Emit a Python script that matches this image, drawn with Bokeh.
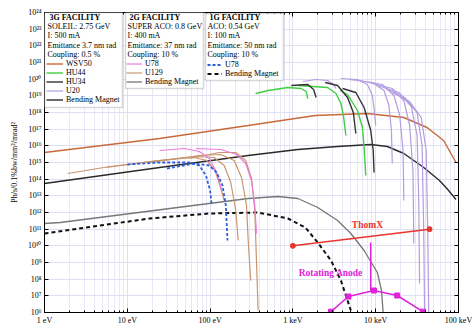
import numpy as np
from bokeh.plotting import figure
from bokeh.models import (FixedTicker, CustomJSTickFormatter, LogAxis, Label,
                          BoxAnnotation, Legend, LegendItem)
from bokeh.embed import file_html
from bokeh.resources import INLINE

FONT = "Liberation Serif"

# ---------------- axes ----------------
X_TICKS = [1.0, 10.0, 100.0, 1000.0, 10000.0, 100000.0]
X_TICK_LABELS = ["1 eV", "10 eV", "100 eV", "1 keV", "10 keV", "100 keV"]
Y_EXPONENTS = list(range(6, 25))
Y_LABEL = "Ph/s/0.1%bw/mm²/mrad²"

# ---------------- data: log10(E / eV), log10(brilliance) ----------------
# 3G SOLEIL
BM3G_LOGE = [0.0, 1.39, 2.46, 3.06, 3.54, 3.94, 4.14, 4.34, 4.58, 4.77, 4.86, 4.97]
BM3G_LOGB = [13.74, 14.70, 15.42, 15.78, 15.96, 16.08, 15.96, 15.54, 14.70, 13.92, 13.44, 12.78]
WSV50_LOGE = [0.0, 1.39, 2.46, 3.27, 3.90, 4.34, 4.62, 4.82, 4.97]
WSV50_LOGB = [15.60, 16.44, 17.22, 17.82, 17.94, 17.70, 17.10, 16.32, 15.00]
HU44_LOGE = [[2.55, 2.70, 2.94, 3.10, 3.16, 3.18],
             [3.06, 3.42, 3.52, 3.58, 3.61, 3.64],
             [3.57, 3.66, 3.78, 3.84, 3.86, 3.88]]
HU44_LOGB = [[19.14, 19.32, 19.50, 19.44, 19.26, 18.84],
             [19.62, 19.50, 19.14, 18.54, 17.82, 16.62],
             [19.32, 19.08, 18.12, 17.10, 15.90, 14.22]]
HU34_LOGE = [[2.98, 3.18, 3.25, 3.28],
             [3.39, 3.54, 3.66, 3.73, 3.76],
             [3.60, 3.76, 3.86, 3.94, 3.97, 3.98]]
HU34_LOGB = [[19.62, 19.68, 19.38, 18.90],
             [19.80, 19.62, 18.90, 18.00, 16.74],
             [19.44, 19.20, 18.30, 16.92, 15.72, 14.40]]
U20_LOGE = [[3.12, 3.28, 3.42, 3.49, 3.52],
            [3.58, 3.78, 3.90, 3.96, 3.98, 4.00],
            [3.68, 3.96, 4.10, 4.16, 4.19, 4.20],
            [3.80, 4.08, 4.22, 4.29, 4.33, 4.34],
            [3.92, 4.20, 4.34, 4.41, 4.45, 4.46],
            [4.02, 4.28, 4.43, 4.50, 4.52, 4.53],
            [4.12, 4.35, 4.50, 4.56, 4.58, 4.59],
            [4.20, 4.41, 4.55, 4.61, 4.63, 4.64]]
U20_LOGB = [[19.86, 19.98, 19.92, 19.68, 19.44],
            [20.04, 19.98, 19.68, 19.02, 18.24, 17.22],
            [19.98, 19.80, 19.32, 18.42, 16.92, 14.94],
            [19.92, 19.68, 19.02, 17.82, 15.72, 12.72],
            [19.80, 19.44, 18.72, 17.22, 14.52, 10.14],
            [19.62, 19.20, 18.36, 16.62, 12.72, 7.74],
            [19.44, 18.90, 18.00, 16.02, 10.92, 6.12],
            [19.20, 18.66, 17.70, 15.72, 10.32, 6.00]]

# 2G SUPER ACO
BM2G_LOGE = [0.0, 0.19, 2.46, 2.82, 3.06, 3.30, 3.54, 3.70, 3.86, 4.02, 4.07, 4.09]
BM2G_LOGB = [11.34, 11.40, 12.84, 12.96, 12.84, 12.30, 11.52, 10.74, 9.72, 8.40, 7.32, 6.00]
U78_2G_LOGE = [[1.39, 1.69, 1.87, 1.99, 2.08, 2.14],
               [1.83, 2.13, 2.32, 2.43, 2.50, 2.54, 2.56]]
U78_2G_LOGB = [[15.72, 15.84, 15.66, 15.24, 14.40, 13.32],
               [15.84, 15.78, 15.48, 14.94, 13.92, 12.42, 10.74]]
U129_LOGE = [[0.28, 0.79, 1.39, 1.81, 1.96, 2.06, 2.12, 2.17],
             [0.75, 1.27, 1.81, 2.05, 2.17, 2.25, 2.31, 2.34],
             [1.27, 1.87, 2.13, 2.29, 2.38, 2.44, 2.46, 2.49],
             [1.75, 2.11, 2.31, 2.43, 2.50, 2.54, 2.56, 2.58]]
U129_LOGB = [[14.34, 14.76, 15.12, 15.30, 15.12, 14.52, 13.62, 12.72],
             [14.70, 15.06, 15.36, 15.30, 14.82, 13.80, 12.12, 10.32],
             [15.00, 15.42, 15.48, 15.12, 14.10, 12.42, 10.32, 7.92],
             [15.24, 15.60, 15.60, 15.12, 14.04, 12.12, 9.12, 6.12]]

# 1G ACO
BM1G_LOGE = [0.0, 1.27, 1.99, 2.58, 2.94, 3.15, 3.30, 3.46, 3.58, 3.70]
BM1G_LOGB = [10.74, 11.64, 11.94, 12.00, 11.64, 11.10, 10.20, 9.12, 7.92, 6.12]
U78_1G_LOGE = [[1.00, 1.39, 1.75, 1.87, 1.95, 2.00, 2.02],
               [1.48, 1.81, 1.99, 2.08, 2.15, 2.19, 2.21]]
U78_1G_LOGB = [[14.88, 15.00, 15.00, 14.82, 14.22, 13.32, 12.42],
               [14.64, 14.94, 14.82, 14.40, 13.62, 12.42, 10.32]]

# ThomX and rotating anode
THOMX_LOGE = [3.00, 4.65]
THOMX_LOGB = [10.00, 11.00]
ANODE_LOGE = [3.46, 3.67, 3.98, 4.26, 4.57]
ANODE_LOGB = [6.05, 6.96, 7.32, 7.02, 6.05]
ANODE_LINE_LOGE = [3.94, 3.94]
ANODE_LINE_LOGB = [10.20, 7.28]

HEAD_3G = ["3G FACILITY", "SOLEIL: 2.75 GeV", "I: 500 mA", "Emittance 3.7 nm rad", "Coupling: 0.5 %"]
HEAD_2G = ["2G FACILITY", "SUPER ACO: 0.8 GeV", "I: 400 mA", "Emittance: 37 nm rad", "Coupling: 10 %"]
HEAD_1G = ["1G FACILITY", "ACO: 0.54 GeV", "I: 100 mA", "Emittance: 50 nm rad", "Coupling: 10 %"]

C_WSV = "#c8693a"
C_HU44 = "#3fcf3f"
C_HU34 = "#333333"
C_U20 = "#b39ce0"
C_BM3 = "#2a2a2a"
C_U78 = "#ea7ddc"
C_U129 = "#c9956e"
C_BM2 = "#777777"
C_U78_1 = "#2f5fd8"
C_BM1 = "#111111"
C_THOMX = "#e8352e"
C_ANODE = "#e022d8"

TXT = "8px"


def P(a):
    return 10 ** np.asarray(a, dtype=float)


p = figure(width=472, height=331, x_axis_type="log", y_axis_type="log",
           x_range=(1, 1e5), y_range=(1e6, 1e24),
           output_backend="svg", toolbar_location=None,
           min_border_left=44, min_border_right=14, min_border_top=12, min_border_bottom=19)
p.background_fill_color = "white"
p.border_fill_color = "white"
p.outline_line_color = "black"
p.outline_line_width = 1

xticker = FixedTicker(ticks=X_TICKS,
                      minor_ticks=[float(m * 10 ** k) for k in range(5) for m in range(2, 10)])
yticker = FixedTicker(ticks=[float(10 ** e) for e in Y_EXPONENTS], minor_ticks=[])
xfmt = CustomJSTickFormatter(args=dict(labels=X_TICK_LABELS),
                             code="const i = Math.round(Math.log10(tick)); return labels[i] ?? '';")
yfmt = CustomJSTickFormatter(code="""
const sup = {'0':'\u2070','1':'\u00b9','2':'\u00b2','3':'\u00b3','4':'\u2074','5':'\u2075','6':'\u2076','7':'\u2077','8':'\u2078','9':'\u2079','-':'\u207b'};
const e = Math.round(Math.log10(tick));
return '10' + String(e).split('').map(c => sup[c]).join('');
""")
blank_fmt = CustomJSTickFormatter(code="return '';")

p.xaxis.ticker = xticker
p.xaxis.formatter = xfmt
p.yaxis.ticker = yticker
p.yaxis.formatter = yfmt
p.xgrid.ticker = xticker
p.ygrid.ticker = yticker

for ax in [p.xaxis[0], p.yaxis[0]]:
    ax.major_tick_in = 4
    ax.major_tick_out = 0
    ax.minor_tick_in = 2
    ax.minor_tick_out = 0
    ax.axis_line_color = "black"
    ax.major_label_text_font = FONT
    ax.major_label_text_font_size = "8px"
    ax.major_label_text_color = "black"
    ax.major_label_standoff = 3
p.yaxis.axis_label = Y_LABEL
p.yaxis.axis_label_text_font = FONT
p.yaxis.axis_label_text_font_size = "8px"
p.yaxis.axis_label_text_font_style = "normal"
p.yaxis.axis_label_text_color = "black"
p.yaxis.axis_label_standoff = 6

top_ax = LogAxis(ticker=xticker, formatter=blank_fmt, major_label_standoff=0,
                 major_tick_in=4, major_tick_out=0, minor_tick_in=2, minor_tick_out=0)
right_ax = LogAxis(ticker=yticker, formatter=blank_fmt, major_label_standoff=0,
                   major_tick_in=4, major_tick_out=0, minor_tick_in=0, minor_tick_out=0)
p.add_layout(top_ax, "above")
p.add_layout(right_ax, "right")

p.xgrid.grid_line_color = "#dfdff2"
p.xgrid.minor_grid_line_color = "#e8e8f6"
p.ygrid.grid_line_color = "#dfdff2"

# ---------------- curves ----------------
r_bm2 = p.line(P(BM2G_LOGE), P(BM2G_LOGB), line_color=C_BM2, line_width=1.3)
r_bm1 = p.line(P(BM1G_LOGE), P(BM1G_LOGB), line_color=C_BM1, line_width=2, line_dash="4 3")
r_bm3 = p.line(P(BM3G_LOGE), P(BM3G_LOGB), line_color=C_BM3, line_width=1.4)
r_wsv = p.line(P(WSV50_LOGE), P(WSV50_LOGB), line_color=C_WSV, line_width=1.4)

r_u129 = None
for le, lb in zip(U129_LOGE, U129_LOGB):
    r = p.line(P(le), P(lb), line_color=C_U129, line_width=1.2)
    r_u129 = r_u129 or r
r_u78 = None
for le, lb in zip(U78_2G_LOGE, U78_2G_LOGB):
    r = p.line(P(le), P(lb), line_color=C_U78, line_width=1.2)
    r_u78 = r_u78 or r
r_u78b = None
for le, lb in zip(U78_1G_LOGE, U78_1G_LOGB):
    r = p.line(P(le), P(lb), line_color=C_U78_1, line_width=1.8, line_dash="3 2")
    r_u78b = r_u78b or r
r_u20 = None
for le, lb in zip(U20_LOGE, U20_LOGB):
    r = p.line(P(le), P(lb), line_color=C_U20, line_width=1.2)
    r_u20 = r_u20 or r
r_hu44 = None
for le, lb in zip(HU44_LOGE, HU44_LOGB):
    r = p.line(P(le), P(lb), line_color=C_HU44, line_width=1.4)
    r_hu44 = r_hu44 or r
r_hu34 = None
for le, lb in zip(HU34_LOGE, HU34_LOGB):
    r = p.line(P(le), P(lb), line_color=C_HU34, line_width=1.4)
    r_hu34 = r_hu34 or r

p.line(P(THOMX_LOGE), P(THOMX_LOGB), line_color=C_THOMX, line_width=1.5)
p.scatter(P(THOMX_LOGE), P(THOMX_LOGB), marker="circle", size=5, color=C_THOMX)
p.line(P(ANODE_LOGE), P(ANODE_LOGB), line_color=C_ANODE, line_width=1.5)
p.scatter(P(ANODE_LOGE), P(ANODE_LOGB), marker="square", size=5, color=C_ANODE)
p.line(P(ANODE_LINE_LOGE), P(ANODE_LINE_LOGB), line_color=C_ANODE, line_width=1.5)

p.add_layout(Label(x=7943, y=1.66e11, text="ThomX", text_font=FONT, text_font_style="bold",
                   text_font_size="9.5px", text_color=C_THOMX, text_align="center",
                   text_baseline="middle"))
p.add_layout(Label(x=2864, y=2.5e8, text="Rotating Anode", text_font=FONT, text_font_style="bold",
                   text_font_size="9.5px", text_color=C_ANODE, text_align="center",
                   text_baseline="middle"))

# ---------------- legend boxes (screen units, from frame bottom-left) ----------------
def add_box(left, right, top, bottom, head, head_x, items, leg_x, leg_y, glyph_w):
    p.add_layout(BoxAnnotation(left=left, right=right, top=top, bottom=bottom,
                               left_units="screen", right_units="screen",
                               top_units="screen", bottom_units="screen",
                               fill_color="white", fill_alpha=1.0,
                               line_color="#7a7a7a", line_width=1.5))
    ys = [295, 286, 277, 267.5, 258]
    for i, (t, yy) in enumerate(zip(head, ys)):
        p.add_layout(Label(x=head_x + (2 if i == 0 else 0), y=yy, x_units="screen", y_units="screen",
                           text=t, text_font=FONT, text_font_size=TXT,
                           text_font_style="bold" if i == 0 else "normal",
                           text_color="black", text_baseline="middle"))
    leg = Legend(items=[LegendItem(label=l, renderers=[r]) for l, r in items],
                 location=(leg_x, leg_y), orientation="vertical",
                 glyph_width=glyph_w, glyph_height=9, label_height=9, label_width=10,
                 spacing=0, padding=0, margin=0, label_standoff=3,
                 label_text_font=FONT, label_text_font_size=TXT, label_text_color="black",
                 border_line_alpha=0, background_fill_alpha=0)
    p.add_layout(leg)


add_box(0, 78, 300, 205, HEAD_3G, 3,
        [("WSV50", r_wsv), ("HU44", r_hu44), ("HU34", r_hu34), ("U20", r_u20),
         ("Bending Magnet", r_bm3)], 2, 208, 17)
add_box(81, 159, 300, 224, HEAD_2G, 83,
        [("U78", r_u78), ("U129", r_u129), ("Bending Magnet", r_bm2)], 82, 226, 16)
add_box(161, 239, 299, 232, HEAD_1G, 163,
        [("U78", r_u78b), ("Bending Magnet", r_bm1)], 163, 234, 15)

open("out.html", "w").write(file_html(p, INLINE))
